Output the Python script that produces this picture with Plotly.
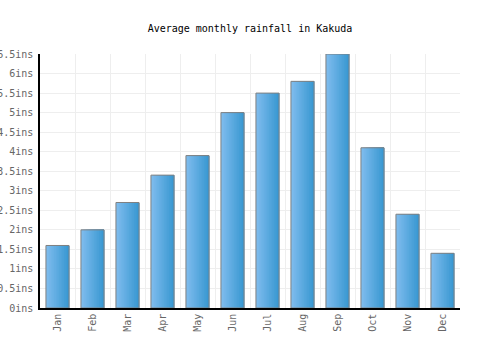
import plotly.graph_objects as go

months = ["Jan", "Feb", "Mar", "Apr", "May", "Jun", "Jul", "Aug", "Sep", "Oct", "Nov", "Dec"]
rainfall = [1.6, 2.0, 2.7, 3.4, 3.9, 5.0, 5.5, 5.8, 6.5, 4.1, 2.4, 1.4]
title_text = "Average monthly rainfall in Kakuda"

bar_w = 0.66
n_strips = 14
c0 = (126, 188, 237)
c1 = (58, 152, 210)

fig = go.Figure()
sw = bar_w / n_strips
for i in range(n_strips):
    t = i / (n_strips - 1)
    col = tuple(round(a + (b - a) * t) for a, b in zip(c0, c1))
    fig.add_trace(go.Bar(
        x=months, y=rainfall, width=bar_w - i * sw, offset=-bar_w / 2 + i * sw,
        marker=dict(color="rgb(%d,%d,%d)" % col, line=dict(width=0)),
        hoverinfo="skip", showlegend=False,
    ))
fig.add_trace(go.Bar(
    x=months, y=rainfall, width=bar_w, offset=-bar_w / 2,
    marker=dict(color="rgba(0,0,0,0)", line=dict(color="#808080", width=1)),
    showlegend=False,
))

font = "DejaVu Sans Mono"
fig.update_layout(
    barmode="overlay",
    width=500, height=350,
    margin=dict(l=40, r=40, t=54, b=42),
    paper_bgcolor="white", plot_bgcolor="white",
    title=dict(text=title_text, x=0.5, xanchor="center", y=1 - 28 / 350, yanchor="middle",
               font=dict(family=font, size=10, color="#000000")),
    font=dict(family=font, size=10, color="#666666"),
    xaxis=dict(type="category", tickson="boundaries", showgrid=True, gridcolor="#eeeeee",
               tickangle=-90, showline=True, linecolor="#000000", linewidth=1.5,
               ticks="", automargin=False, tickfont=dict(color="#666666", size=10)),
    yaxis=dict(range=[0, 6.5], dtick=0.5, ticksuffix="ins", showgrid=True, gridcolor="#eeeeee",
               showline=True, linecolor="#000000", linewidth=1.5, ticks="", zeroline=False,
               automargin=False, ticklabelstandoff=3, tickfont=dict(color="#666666", size=10)),
)
fig.write_html("out.html")
